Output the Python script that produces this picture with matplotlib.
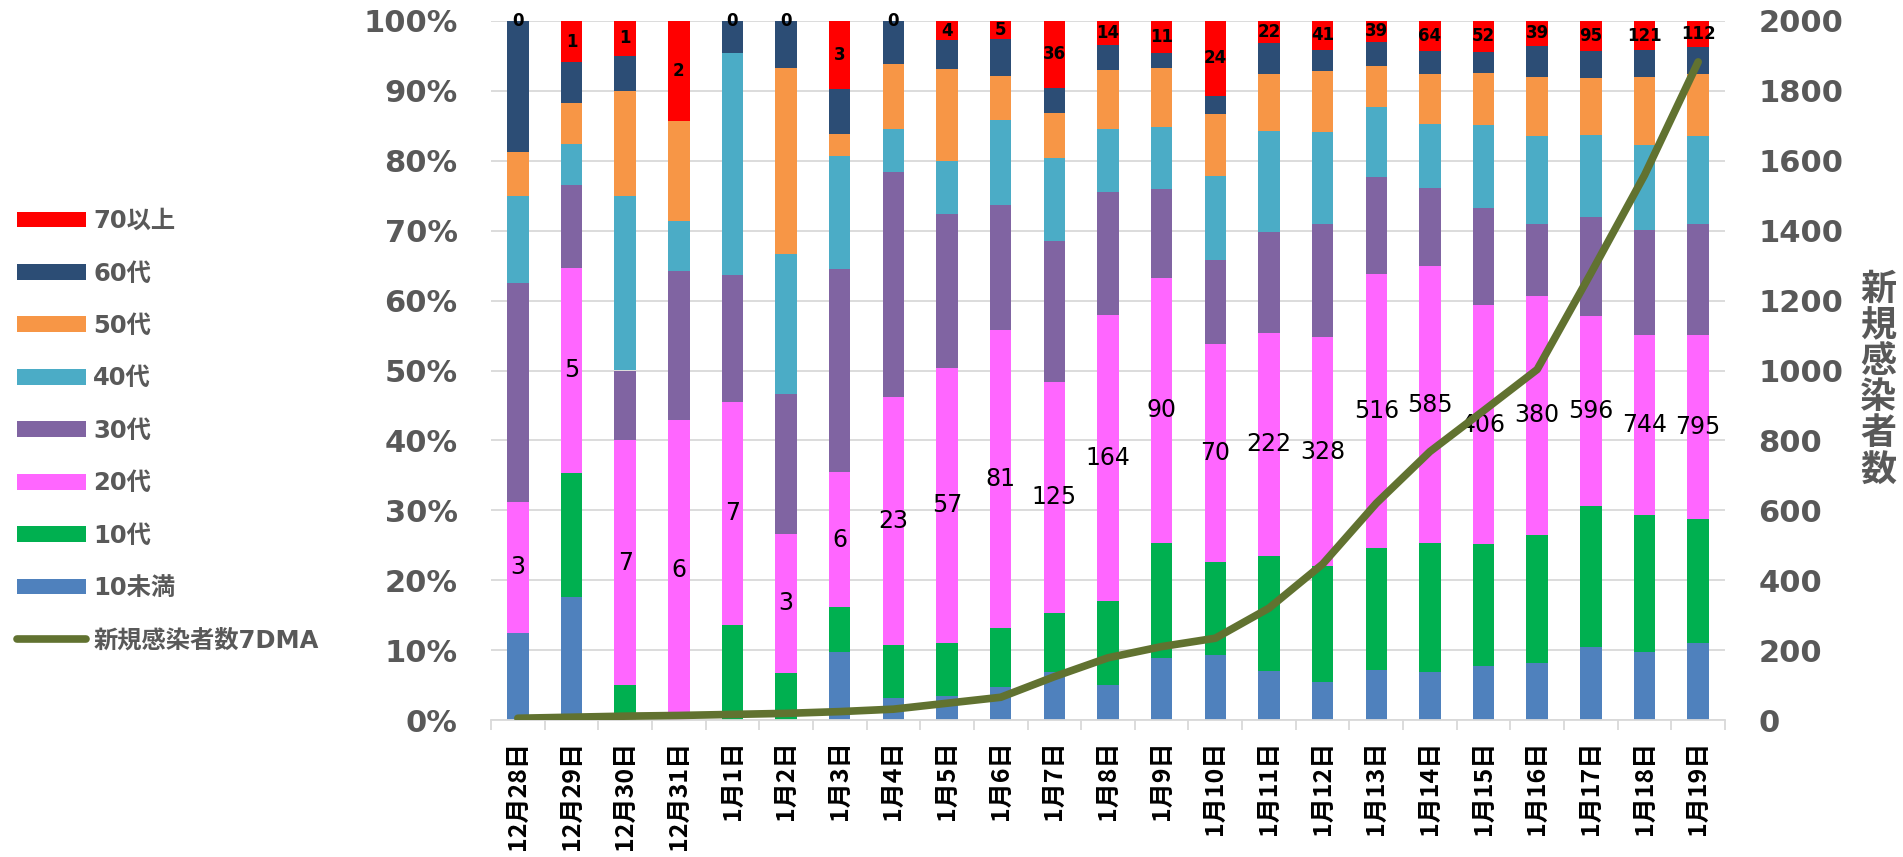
import numpy as np
import matplotlib
matplotlib.use("Agg")
from matplotlib import pyplot as plt
from matplotlib.patches import Patch
from matplotlib.lines import Line2D
from matplotlib.ticker import PercentFormatter, FixedLocator
from matplotlib.font_manager import FontProperties

plt.rcParams['font.family'] = ['DejaVu Sans', 'Noto Sans CJK JP']

dates = ['12月28日', '12月29日', '12月30日', '12月31日', '1月1日', '1月2日',
         '1月3日', '1月4日', '1月5日', '1月6日', '1月7日', '1月8日', '1月9日',
         '1月10日', '1月11日', '1月12日', '1月13日', '1月14日', '1月15日',
         '1月16日', '1月17日', '1月18日', '1月19日']

# daily new cases by age group
under10 = [2, 3, 0, 0, 0, 0, 3, 2, 5, 9, 26, 20, 21, 21, 49, 55, 95, 101, 92, 90, 228, 281, 335]
teens = [0, 3, 1, 0, 3, 1, 2, 5, 11, 16, 32, 48, 39, 30, 114, 165, 230, 274, 206, 204, 440, 566, 535]
twenties = [3, 5, 7, 6, 7, 3, 6, 23, 57, 81, 125, 164, 90, 70, 222, 328, 516, 585, 406, 380, 596, 744, 795]
thirties = [5, 2, 2, 3, 4, 3, 9, 21, 32, 34, 76, 70, 30, 27, 100, 161, 183, 166, 165, 114, 309, 432, 480]
forties = [2, 1, 5, 1, 7, 3, 5, 4, 11, 23, 45, 36, 21, 27, 101, 132, 131, 135, 140, 140, 256, 351, 381]
fifties = [1, 1, 3, 2, 0, 4, 1, 6, 19, 12, 24, 34, 20, 20, 56, 88, 79, 105, 89, 93, 180, 281, 269]
sixties = [3, 1, 1, 0, 1, 1, 2, 4, 6, 10, 14, 14, 5, 6, 31, 30, 45, 49, 36, 50, 83, 110, 115]
over70 = [0, 1, 1, 2, 0, 0, 3, 0, 4, 5, 36, 14, 11, 24, 22, 41, 39, 64, 52, 39, 95, 121, 112]

# 7-day moving average of new cases
ma7 = [5, 8, 11, 13, 16, 19, 24, 31, 48, 65, 124, 178, 210, 234, 320, 446, 620, 768, 885, 1003, 1278, 1559, 1883]

groups = ['10未満', '10代', '20代', '30代', '40代', '50代', '60代', '70以上']
colors = ['#4F81BD', '#00B050', '#FF66FF', '#8064A2', '#4BACC6', '#F79646', '#2C4D75', '#FF0000']
line_color = '#617230'
gray = '#595959'
grid_gray = '#D9D9D9'

counts = np.array([under10, teens, twenties, thirties, forties, fifties, sixties, over70], dtype=float)
shares = counts / counts.sum(axis=0)
x = np.arange(len(dates))

fig = plt.figure(figsize=(19.03, 8.57), dpi=100)
ax = fig.add_axes([491 / 1903, 1 - 720 / 857, 1234 / 1903, 699 / 857])

bottom = np.zeros(len(dates))
for i in range(len(groups)):
    ax.bar(x, shares[i], 0.4, bottom=bottom, color=colors[i], zorder=2)
    if groups[i] == '20代':
        for xi, b, h, c in zip(x, bottom, shares[i], twenties):
            ax.text(xi, b + h / 2, str(c), ha='center', va='center',
                    fontsize=17, color='black', zorder=4)
    if groups[i] == '70以上':
        for xi, b, h, c in zip(x, bottom, shares[i], over70):
            ax.text(xi, b + h / 2, str(c), ha='center', va='center',
                    fontsize=12, fontweight='bold', color='black', zorder=4)
    bottom += shares[i]

ax.set_xlim(-0.5, len(dates) - 0.5)
ax.set_ylim(0, 1)
ax.set_yticks(np.arange(0, 1.01, 0.1))
ax.yaxis.set_major_formatter(PercentFormatter(1.0, decimals=0))
ax.tick_params(axis='y', length=0, pad=24, labelsize=22, labelcolor=gray)
for t in ax.get_yticklabels():
    t.set_fontweight('bold')
ax.grid(axis='y', color=grid_gray, linewidth=1.3, zorder=0)
ax.set_axisbelow(True)

ax.set_xticks(x)
ax.set_xticklabels(dates, rotation=90, fontsize=18, fontweight='bold',
                   family=['Noto Sans CJK JP'])
ax.xaxis.set_minor_locator(FixedLocator(np.arange(-0.5, len(dates), 1.0)))
ax.tick_params(axis='x', which='major', length=0, pad=15)
ax.tick_params(axis='x', which='minor', length=7, width=1.3, color=grid_gray)

for side in ['left', 'right', 'top']:
    ax.spines[side].set_visible(False)
ax.spines['bottom'].set_color(grid_gray)
ax.spines['bottom'].set_linewidth(1.3)

ax2 = ax.twinx()
ax2.plot(x, ma7, color=line_color, linewidth=5.5, solid_capstyle='round', zorder=5)
ax2.set_ylim(0, 2000)
ax2.set_yticks(np.arange(0, 2001, 200))
ax2.tick_params(axis='y', length=0, pad=24, labelsize=22, labelcolor=gray)
for t in ax2.get_yticklabels():
    t.set_fontweight('bold')
for side in ax2.spines:
    ax2.spines[side].set_visible(False)
ax2.set_ylabel('\n'.join('新規感染者数'), rotation=0, ha='center', va='center',
               fontsize=26, fontweight='bold', color=gray,
               family=['Noto Sans CJK JP'], linespacing=0.97)
ax2.yaxis.set_label_coords(1.124, 0.487)

handles = [Patch(facecolor=colors[i]) for i in range(len(groups) - 1, -1, -1)]
handles.append(Line2D([], [], color=line_color, linewidth=5.5, solid_capstyle='round'))
labels = groups[::-1] + ['新規感染者数7DMA']
leg = fig.legend(handles, labels, loc='upper left', bbox_to_anchor=(17 / 1903, 1 - 209 / 857),
                 frameon=False, borderpad=0, borderaxespad=0,
                 handlelength=2.84, handleheight=0.62, handletextpad=0.3,
                 labelspacing=1.17, labelcolor=gray,
                 prop=FontProperties(family=['DejaVu Sans', 'Noto Sans CJK JP'],
                                     weight='bold', size=17.5))

fig.savefig('out.png', dpi=100)
